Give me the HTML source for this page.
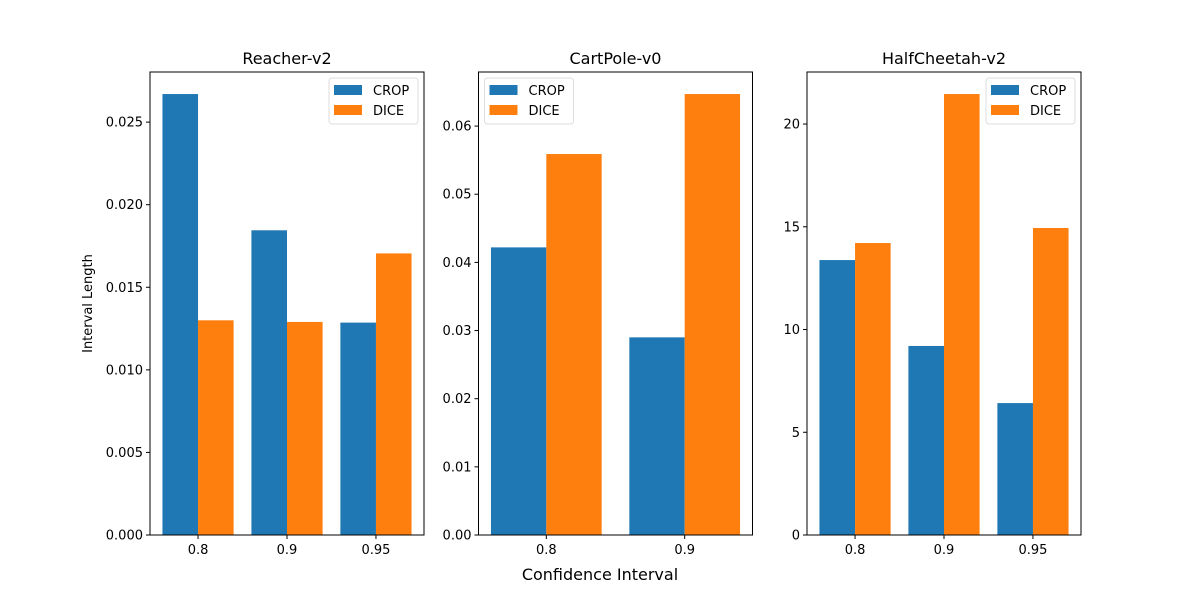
<!DOCTYPE html>
<html><head><meta charset="utf-8">
<style>
body{margin:0;background:#fff;}
svg text{font-family:"DejaVu Sans","Liberation Sans",sans-serif;fill:#000;}
</style></head>
<body>
<svg id="chart" width="1200" height="600" xmlns="http://www.w3.org/2000/svg"></svg>
<script>
const titles = ["Reacher-v2", "CartPole-v0", "HalfCheetah-v2"];
const categories1 = ["0.8", "0.9", "0.95"];
const categories2 = ["0.8", "0.9"];
const categories3 = ["0.8", "0.9", "0.95"];
const crop1 = [0.0267, 0.01845, 0.01286];
const dice1 = [0.0130, 0.0129, 0.01705];
const crop2 = [0.0422, 0.0290];
const dice2 = [0.0559, 0.0647];
const crop3 = [13.38, 9.2, 6.42];
const dice3 = [14.21, 21.46, 14.94];
const ticks1 = [0, 0.005, 0.010, 0.015, 0.020, 0.025];
const tickLabels1 = ["0.000","0.005","0.010","0.015","0.020","0.025"];
const ticks2 = [0, 0.01, 0.02, 0.03, 0.04, 0.05, 0.06];
const tickLabels2 = ["0.00","0.01","0.02","0.03","0.04","0.05","0.06"];
const ticks3 = [0, 5, 10, 15, 20];
const tickLabels3 = ["0","5","10","15","20"];

const svg = document.getElementById('chart');
const NS = "http://www.w3.org/2000/svg";
function mk(tag, attrs, parent, text){
  const e = document.createElementNS(NS, tag);
  for (const k in attrs) e.setAttribute(k, attrs[k]);
  if (text !== undefined) e.textContent = text;
  (parent || svg).appendChild(e);
  return e;
}
const panels = [
  {x0:150, cats:categories1, crop:crop1, dice:dice1, ticks:ticks1, labels:tickLabels1, legend:"right", key:"reacher"},
  {x0:478.5, cats:categories2, crop:crop2, dice:dice2, ticks:ticks2, labels:tickLabels2, legend:"left", key:"cartpole"},
  {x0:807, cats:categories3, crop:crop3, dice:dice3, ticks:ticks3, labels:tickLabels3, legend:"right", key:"halfcheetah"}
];
const Y0 = 72, Y1 = 535, W = 274;
const C1 = "#1f77b4", C2 = "#ff7f0e";
panels.forEach((p, i) => {
  const g = mk('g', {});
  
  
  const n = p.cats.length;
  const lo = -0.4, hi = n - 1 + 0.4, m = (hi - lo) * 0.05;
  const xmin = lo - m, xmax = hi + m;
  const xs = v => p.x0 + (v - xmin) / (xmax - xmin) * W;
  const ymax = Math.max(...p.crop, ...p.dice) * 1.05;
  const ys = v => Y1 - v / ymax * (Y1 - Y0);
  p.cats.forEach((c, j) => {
    const b1 = mk('rect', {x: xs(j - 0.4), y: ys(p.crop[j]), width: xs(j) - xs(j - 0.4), height: Y1 - ys(p.crop[j]), fill: C1}, g);
    
    
    const b2 = mk('rect', {x: xs(j), y: ys(p.dice[j]), width: xs(j + 0.4) - xs(j), height: Y1 - ys(p.dice[j]), fill: C2}, g);
    
    
    mk('line', {x1: xs(j), x2: xs(j), y1: Y1, y2: Y1 + 4, stroke: '#000', 'stroke-width': 1}, g);
    const t = mk('text', {x: xs(j), y: Y1 + 19, 'text-anchor': 'middle', 'font-size': 13}, g, c);
    
    
  });
  p.ticks.forEach((v, j) => {
    mk('line', {x1: p.x0 - 4, x2: p.x0, y1: ys(v), y2: ys(v), stroke: '#000', 'stroke-width': 1}, g);
    const t = mk('text', {x: p.x0 - 7, y: ys(v) + 4.5, 'text-anchor': 'end', 'font-size': 13}, g, p.labels[j]);
    
    
  });
  mk('rect', {x: p.x0, y: Y0, width: W, height: Y1 - Y0, fill: 'none', stroke: '#000', 'stroke-width': 1}, g);
  const tt = mk('text', {x: p.x0 + W / 2, y: Y0 - 8, 'text-anchor': 'middle', 'font-size': 16}, g, titles[i]);
  
  
  const lx = p.legend === "right" ? p.x0 + W - 95 : p.x0 + 6;
  const lg = mk('g', {}, g);
  
  
  mk('rect', {x: lx, y: Y0 + 6, width: 89, height: 46, rx: 3, fill: '#fff', 'fill-opacity': 0.8, stroke: '#ddd'}, lg);
  mk('rect', {x: lx + 5, y: Y0 + 13, width: 28, height: 10, fill: C1}, lg);
  mk('rect', {x: lx + 5, y: Y0 + 33, width: 28, height: 10, fill: C2}, lg);
  const e1 = mk('text', {x: lx + 44, y: Y0 + 23, 'font-size': 13}, lg, 'CROP');
  
  
  const e2 = mk('text', {x: lx + 44, y: Y0 + 43, 'font-size': 13}, lg, 'DICE');
  
  
});
const yl = mk('text', {x: 92, y: 303.5, 'text-anchor': 'middle', 'font-size': 13, transform: 'rotate(-90 92 303.5)'}, svg, 'Interval Length');


const xl = mk('text', {x: 600, y: 580, 'text-anchor': 'middle', 'font-size': 16}, svg, 'Confidence Interval');


</script>
</body></html>
